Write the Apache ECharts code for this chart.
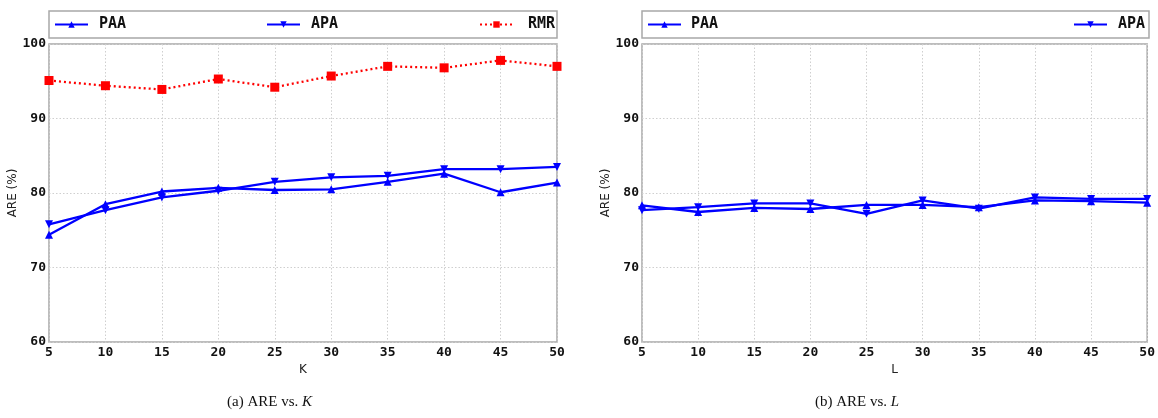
<!DOCTYPE html>
<html>
<head>
<meta charset="utf-8">
<script src="https://cdn.jsdelivr.net/npm/echarts@6/dist/echarts.min.js"></script>
<style>
  html, body { margin: 0; padding: 0; background: #fff; }
  #chart { width: 1158px; height: 418px; }
</style>
</head>
<body>
<div id="chart"></div>
<script>
// Parameter values on the x axis (K for panel a, L for panel b)
const kValues = [5, 10, 15, 20, 25, 30, 35, 40, 45, 50];
const lValues = [5, 10, 15, 20, 25, 30, 35, 40, 45, 50];

// Panel (a): ARE (%) vs. K
const paaK = [74.4, 78.5, 80.2, 80.7, 80.4, 80.5, 81.5, 82.6, 80.1, 81.4];
const apaK = [75.8, 77.7, 79.4, 80.3, 81.5, 82.1, 82.3, 83.2, 83.2, 83.5];
const rmrK = [95.1, 94.4, 93.9, 95.3, 94.2, 95.7, 97.0, 96.8, 97.8, 97.0];

// Panel (b): ARE (%) vs. L
const paaL = [78.35, 77.45, 78.0, 77.85, 78.4, 78.4, 78.1, 79.0, 78.9, 78.7];
const apaL = [77.7, 78.1, 78.6, 78.6, 77.2, 79.0, 77.9, 79.4, 79.2, 79.2];

const yTicks = [60, 70, 80, 90, 100];

const pairs = (xs, ys) => xs.map((x, i) => [x, ys[i]]);

const BLUE = '#0000ff';
const RED = '#ff0000';
const FRAME = '#a8a8a8';
const monoBold = { fontFamily: 'DejaVu Sans Mono', fontWeight: 'bold', color: '#111' };

function xAxis(gridIndex, name) {
  return {
    type: 'value', gridIndex, min: 5, max: 50, interval: 5,
    name, nameLocation: 'middle', nameGap: 16,
    nameTextStyle: { fontFamily: 'DejaVu Sans', fontSize: 12, color: '#222' },
    axisLine: { show: false }, axisTick: { show: false },
    axisLabel: Object.assign({ fontSize: 13, margin: 4 }, monoBold),
    splitLine: { show: true, lineStyle: { type: [1.5, 2], color: '#cfcfcf', width: 1 } }
  };
}
function yAxis(gridIndex) {
  return {
    type: 'value', gridIndex, min: yTicks[0], max: yTicks[yTicks.length - 1], interval: 10,
    name: 'ARE (%)', nameLocation: 'middle', nameGap: 27, nameRotate: 90,
    nameTextStyle: { fontFamily: 'DejaVu Sans', fontSize: 12, color: '#222' },
    axisLine: { show: false }, axisTick: { show: false },
    axisLabel: Object.assign({ fontSize: 13, margin: 3 }, monoBold),
    splitLine: { show: true, lineStyle: { type: [1.5, 2], color: '#cfcfcf', width: 1 } }
  };
}
function blueSeries(name, data, xi, rotate) {
  return {
    name, type: 'line', xAxisIndex: xi, yAxisIndex: xi, data,
    symbol: 'triangle', symbolSize: 8, symbolRotate: rotate,
    lineStyle: { color: BLUE, width: 2.3 }, itemStyle: { color: BLUE },
    animation: false, z: 3
  };
}
function legendAt(name, left, gap) {
  return {
    data: [name], left, top: 17, padding: 0, itemWidth: 33, itemHeight: 8,
    textStyle: Object.assign({ fontSize: 15, padding: [0, 0, 0, gap] }, monoBold),
    selectedMode: false
  };
}

const chart = echarts.init(document.getElementById('chart'), null, { renderer: 'canvas' });
chart.setOption({
  backgroundColor: '#fff',
  animation: false,
  grid: [
    { left: 49, top: 44, width: 508, height: 298, show: true, borderColor: FRAME, borderWidth: 1.5, containLabel: false },
    { left: 642, top: 44, width: 507, height: 298, show: true, borderColor: FRAME, borderWidth: 1.5, containLabel: false }
  ],
  xAxis: [xAxis(0, 'K'), xAxis(1, 'L')],
  yAxis: [yAxis(0), yAxis(1)],
  legend: [
    legendAt('PAA', 54, 6),
    legendAt('APA', 266, 6),
    legendAt('RMR', 479, 10),
    legendAt('PAA', 647, 5),
    legendAt('APA', 1073, 6)
  ],
  title: [
    { text: '(a) ARE vs. {i|K}', left: 222, top: 390,
      textStyle: { fontFamily: 'Liberation Serif', fontSize: 15, fontWeight: 'normal', color: '#111',
        rich: { i: { fontFamily: 'Liberation Serif', fontStyle: 'italic', fontSize: 15, color: '#111' } } } },
    { text: '(b) ARE vs. {i|L}', left: 810, top: 390,
      textStyle: { fontFamily: 'Liberation Serif', fontSize: 15, fontWeight: 'normal', color: '#111',
        rich: { i: { fontFamily: 'Liberation Serif', fontStyle: 'italic', fontSize: 15, color: '#111' } } } }
  ],
  graphic: [
    { type: 'rect', shape: { x: 49, y: 11, width: 508, height: 27 }, style: { fill: 'none', stroke: FRAME, lineWidth: 1.5 }, z: -1 },
    { type: 'rect', shape: { x: 642, y: 11, width: 507, height: 27 }, style: { fill: 'none', stroke: FRAME, lineWidth: 1.5 }, z: -1 }
  ],
  series: [
    blueSeries('PAA', pairs(kValues, paaK), 0, 0),
    blueSeries('APA', pairs(kValues, apaK), 0, 180),
    {
      name: 'RMR', type: 'line', xAxisIndex: 0, yAxisIndex: 0, data: pairs(kValues, rmrK),
      symbol: 'rect', symbolSize: 9,
      lineStyle: { color: RED, width: 2.3, type: [2, 3] }, itemStyle: { color: RED },
      animation: false, z: 3
    },
    blueSeries('PAA', pairs(lValues, paaL), 1, 0),
    blueSeries('APA', pairs(lValues, apaL), 1, 180)
  ]
});
</script>
</body>
</html>
